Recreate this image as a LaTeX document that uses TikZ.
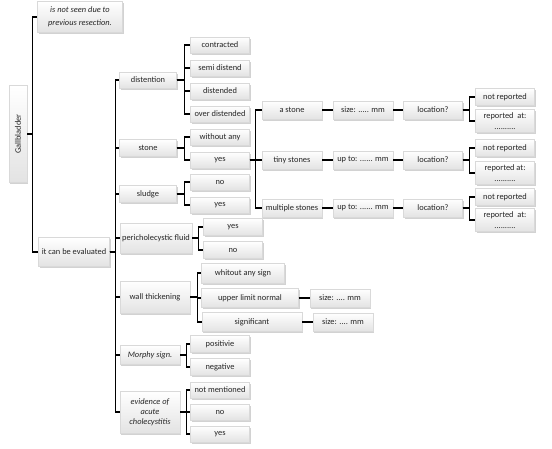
\documentclass[tikz,border=0pt]{standalone}
\usepackage{fontspec}
\setmainfont{Carlito}
\usetikzlibrary{shadows}
\newcommand{\fsz}{\fontsize{8.4}{10}\selectfont}
\tikzset{
  box/.style={draw=gray!30, line width=0.3pt, top color=white, bottom color=gray!22,
    drop shadow={shadow xshift=1.3pt, shadow yshift=-1.6pt, opacity=0.35},
    inner sep=1pt, align=center, font=\fsz, text=black!85},
  wh/.style 2 args={minimum width=#1, minimum height=#2},
  conn/.style={line width=1.1pt, black},
}
\begin{document}
\begin{tikzpicture}[x=1pt,y=-1pt]
\fill[white] (0,0) rectangle (552,449);
\useasboundingbox (0,0) rectangle (552,449);

% level 0/1
\node[box, wh={18}{97}] (gb) at (18,134) {\rotatebox{90}{Gallbladder}};
\node[box, wh={85}{31}, font=\fontsize{8.4}{12.5}\selectfont\itshape] (ns) at (80,17) {is not seen due to\\previous resection.};
\node[box, wh={71}{29}] (ev) at (74,252) {it can be evaluated};

% level 2
\node[box, wh={57}{16}] (dis) at (148,80) {distention};
\node[box, wh={57}{17}] (st) at (148,148) {stone};
\node[box, wh={57}{17}] (sl) at (148,194) {sludge};
\node[box, wh={72}{30}] (pf) at (156,238) {pericholecystic fluid};
\node[box, wh={70}{32}] (wt) at (155,297) {wall thickening};
\node[box, wh={60}{19}, font=\fsz\itshape] (ms) at (150,355) {Morphy sign.};
\node[box, wh={60}{42}, font=\fsz\itshape] (eac) at (150,412) {evidence of\\acute\\cholecystitis};

% distention children
\node[box, wh={59}{16}] (d1) at (220,45) {contracted};
\node[box, wh={59}{16}] (d2) at (220,68) {semi distend};
\node[box, wh={59}{16}] (d3) at (220,91) {distended};
\node[box, wh={59}{16}] (d4) at (220,114) {over distended};
% stone children
\node[box, wh={59}{16}] (s1) at (220,137) {without any};
\node[box, wh={59}{16}] (s2) at (220,160) {yes};
% sludge children
\node[box, wh={59}{16}] (l1) at (220,182) {no};
\node[box, wh={59}{16}] (l2) at (220,205) {yes};

% stone yes children
\node[box, wh={60}{18}] (a1) at (292,110) {a stone};
\node[box, wh={60}{18}] (a2) at (292,160) {tiny stones};
\node[box, wh={60}{18}] (a3) at (292,208) {multiple stones};
\node[box, wh={60}{18}] (b1) at (363,110) {size: ..... mm};
\node[box, wh={60}{18}] (b2) at (363,160) {up to: ...... mm};
\node[box, wh={60}{18}] (b3) at (363,208) {up to: ...... mm};
\node[box, wh={59}{18}] (c1) at (433,110) {location?};
\node[box, wh={59}{18}] (c2) at (433,160) {location?};
\node[box, wh={59}{18}] (c3) at (433,208) {location?};
\node[box, wh={59}{17}] (n1) at (505,97) {not reported};
\node[box, wh={59}{23}, font=\fontsize{8.4}{11}\selectfont] (r1) at (505,121) {reported\ \ at:\\..........};
\node[box, wh={59}{17}] (n2) at (505,148) {not reported};
\node[box, wh={59}{23}, font=\fontsize{8.4}{11}\selectfont] (r2) at (505,173) {reported at:\\..........};
\node[box, wh={59}{17}] (n3) at (505,197) {not reported};
\node[box, wh={59}{23}, font=\fontsize{8.4}{11}\selectfont] (r3) at (505,220) {reported\ \ at:\\..........};

% pericholecystic children
\node[box, wh={59}{17}] (p1) at (233,227) {yes};
\node[box, wh={59}{17}] (p2) at (233,250) {no};
% wall thickening children
\node[box, wh={83}{20}] (w1) at (243,273) {whitout any sign};
\node[box, wh={97}{19}] (w2) at (250,298) {upper limit normal};
\node[box, wh={100}{19}] (w3) at (252,322) {significant};
\node[box, wh={60}{18}] (w2s) at (340,298) {size: .... mm};
\node[box, wh={60}{18}] (w3s) at (343,322) {size: .... mm};
% Morphy children
\node[box, wh={59}{17}] (m1) at (220,344) {positivie};
\node[box, wh={59}{17}] (m2) at (220,367) {negative};
% evidence children
\node[box, wh={59}{16}] (e1) at (220,390) {not mentioned};
\node[box, wh={59}{16}] (e2) at (220,412) {no};
\node[box, wh={59}{16}] (e3) at (220,434) {yes};

% connectors
\foreach \c in {ns,ev} \draw[conn] (gb.east) -- ++(5,0) |- (\c.west);
\foreach \c in {dis,st,sl,pf,wt,ms,eac} \draw[conn] (ev.east) -- ++(6,0) |- (\c.west);
\foreach \c in {d1,d2,d3,d4} \draw[conn] (dis.east) -- ++(8,0) |- (\c.west);
\foreach \c in {s1,s2} \draw[conn] (st.east) -- ++(8,0) |- (\c.west);
\foreach \c in {l1,l2} \draw[conn] (sl.east) -- ++(8,0) |- (\c.west);
\foreach \c in {a1,a2,a3} \draw[conn] (s2.east) -- ++(6,0) |- (\c.west);
\foreach \i in {1,2,3} {
  \draw[conn] (a\i.east) -- (b\i.west);
  \draw[conn] (b\i.east) -- (c\i.west);
  \draw[conn] (c\i.east) -- ++(7,0) |- (n\i.west);
  \draw[conn] (c\i.east) -- ++(7,0) |- (r\i.west);
}
\foreach \c in {p1,p2} \draw[conn] (pf.east) -- ++(6,0) |- (\c.west);
\foreach \c in {w1,w2,w3} \draw[conn] (wt.east) -- ++(7,0) |- (\c.west);
\draw[conn] (w2.east) -- (w2s.west);
\draw[conn] (w3.east) -- (w3s.west);
\foreach \c in {m1,m2} \draw[conn] (ms.east) -- ++(6,0) |- (\c.west);
\foreach \c in {e1,e2,e3} \draw[conn] (eac.east) -- ++(6,0) |- (\c.west);
\end{tikzpicture}
\end{document}
